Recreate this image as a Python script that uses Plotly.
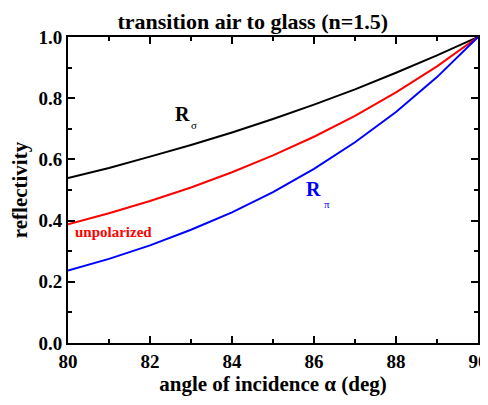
import plotly.graph_objects as go

angle = [80, 81, 82, 83, 84, 85, 86, 87, 88, 89, 90]
r_sigma = [0.539, 0.572, 0.609, 0.647, 0.688, 0.732, 0.779, 0.829, 0.883, 0.940, 1.0]
r_pi = [0.237, 0.275, 0.319, 0.370, 0.427, 0.493, 0.569, 0.656, 0.755, 0.869, 1.0]
r_unpol = [0.388, 0.424, 0.464, 0.508, 0.558, 0.613, 0.674, 0.742, 0.819, 0.904, 1.0]

x_ticks = [80, 82, 84, 86, 88, 90]
y_ticks = [0.0, 0.2, 0.4, 0.6, 0.8, 1.0]

FONT = "Liberation Serif"

fig = go.Figure()
fig.add_trace(go.Scatter(x=angle, y=r_sigma, mode="lines", line=dict(color="black", width=2), name="Rs"))
fig.add_trace(go.Scatter(x=angle, y=r_unpol, mode="lines", line=dict(color="#ff0000", width=2), name="unpol"))
fig.add_trace(go.Scatter(x=angle, y=r_pi, mode="lines", line=dict(color="#0000ff", width=2), name="Rp"))

# R sigma label
fig.add_annotation(x=82.79, y=0.748, text="<b>R</b>", showarrow=False,
                   font=dict(family=FONT, size=20, color="black"), xanchor="center", yanchor="middle")
fig.add_annotation(x=83.08, y=0.711, text="σ", showarrow=False,
                   font=dict(family=FONT, size=11, color="black"), xanchor="center", yanchor="middle")
# R pi label
fig.add_annotation(x=85.99, y=0.502, text="<b>R</b>", showarrow=False,
                   font=dict(family=FONT, size=20, color="#0000ff"), xanchor="center", yanchor="middle")
fig.add_annotation(x=86.31, y=0.454, text="π", showarrow=False,
                   font=dict(family=FONT, size=11, color="#0000ff"), xanchor="center", yanchor="middle")
# unpolarized label
fig.add_annotation(x=80.12, y=0.364, text="<b>unpolarized</b>", showarrow=False,
                   font=dict(family=FONT, size=15, color="#ff0000"), xanchor="left", yanchor="middle")

axis_common = dict(
    showline=True, linecolor="black", linewidth=2, mirror="allticks",
    ticks="inside", ticklen=7, tickwidth=2, tickcolor="black",
    showgrid=False, zeroline=False, automargin=False,
    tickfont=dict(family=FONT, size=19, color="black"),
)

fig.update_xaxes(range=[80, 90], tickvals=x_ticks,
                 ticktext=["<b>%d</b>" % v for v in x_ticks],
                 minor=dict(dtick=1, ticks="inside", ticklen=4, tickwidth=2, tickcolor="black"),
                 title=dict(text="<b>angle of incidence α (deg)</b>", font=dict(family=FONT, size=21, color="black"), standoff=3),
                 **axis_common)
fig.update_yaxes(range=[0, 1.0], tickvals=y_ticks,
                 ticktext=["<b>%.1f</b>" % v for v in y_ticks],
                 minor=dict(dtick=0.1, ticks="inside", ticklen=4, tickwidth=2, tickcolor="black"),
                 title=dict(text="<b>reflectivity</b>", font=dict(family=FONT, size=21, color="black"), standoff=13),
                 **axis_common)

# the page body adds an 8 px offset; figure sized to fit the 488x405 window
fig.update_layout(
    width=480, height=397,
    margin=dict(l=60, r=10, t=29, b=62),
    paper_bgcolor="white", plot_bgcolor="white",
    showlegend=False,
    title=dict(text="<b>transition air to glass (n=1.5)</b>", x=0.51, xanchor="center", y=0.967, yanchor="middle",
               font=dict(family=FONT, size=22, color="black")),
)

fig.write_html("out.html")
